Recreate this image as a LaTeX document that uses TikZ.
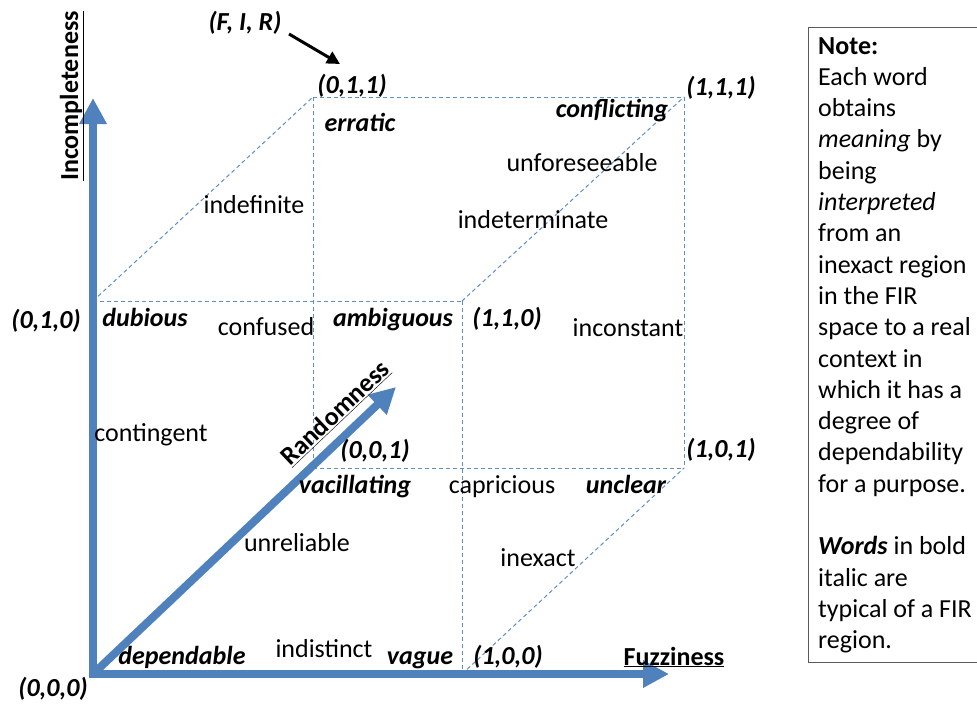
\documentclass[tikz,border=0pt]{standalone}
\usepackage{fontspec}
\setmainfont{Carlito}
\usetikzlibrary{arrows.meta}
\definecolor{axisblue}{RGB}{79,129,189}
\definecolor{dashblue}{RGB}{95,142,200}
\definecolor{boxgray}{RGB}{90,90,90}
\begin{document}
\begin{tikzpicture}[x=1pt,y=-1pt,
  every node/.style={inner sep=0pt, font=\fontsize{26}{31.3}\selectfont},
  word/.style={anchor=base},
  key/.style={anchor=base, font=\fontsize{26}{31.3}\selectfont\bfseries\itshape},
  axislbl/.style={anchor=base, font=\fontsize{26}{31.3}\selectfont\bfseries},
  axisarrow/.style={draw=axisblue, line width=8pt, -{Triangle[length=26pt,width=26pt]}},
  edge/.style={draw=dashblue, line width=1pt, dash pattern=on 4pt off 3pt},
]
\useasboundingbox (0,0) rectangle (977,704);

% cube corners
\coordinate (c000) at (93,674);
\coordinate (c100) at (462,674);
\coordinate (c010) at (93,301);
\coordinate (c110) at (462,301);
\coordinate (c001) at (313,468);
\coordinate (c101) at (684,468);
\coordinate (c011) at (313,97);
\coordinate (c111) at (684,97);

% dashed cube edges
\draw[edge] (c010) -- (c110);
\draw[edge] (c010) -- (c011);
\draw[edge] (c011) -- (c111);
\draw[edge] (c110) -- (c111);
\draw[edge] (c111) -- (c101);
\draw[edge] (c011) -- (c001);
\draw[edge] (c001) -- (c101);
\draw[edge] (c110) -- (c100);
\draw[edge] (c100) -- (c101);

% axes
\coordinate (ystart) at (93,678);
\coordinate (yend) at (93,98);
\coordinate (xstart) at (89,674);
\coordinate (xend) at (669,674);
\coordinate (zend) at (396,387);
\draw[axisarrow] (c000) -- (zend);
\draw[axisarrow] (ystart) -- (yend);
\draw[axisarrow] (xstart) -- (xend);

% axis labels
\node[axislbl, rotate=90] (lblI) at (78,96) {\underline{Incompleteness}};
\node[axislbl, rotate=43.5] (lblR) at (341,419) {\underline{Randomness}};
\node[axislbl] (lblF) at (674,665) {\underline{Fuzziness}};

% (F, I, R) pointer
\node[key] (fir) at (245,30) {(F, I, R)};
\coordinate (firs) at (289,34);
\coordinate (fire) at (340,64);
\draw[line width=3pt, -{Triangle[length=13pt,width=13pt]}] (firs) -- (fire);

% corner labels
\node[key] (l011) at (352,93) {(0,1,1)};
\node[key] (l111) at (721,95) {(1,1,1)};
\node[key] (l010) at (46,328) {(0,1,0)};
\node[key] (l110) at (507,326) {(1,1,0)};
\node[key] (l001) at (375,458) {(0,0,1)};
\node[key] (l101) at (721,457) {(1,0,1)};
\node[key] (l100) at (508,664) {(1,0,0)};
\node[key] (l000) at (53,696) {(0,0,0)};

% typical words (bold italic)
\node[key] (erratic) at (360,131) {erratic};
\node[key] (conflicting) at (612,117) {conflicting};
\node[key] (dubious) at (145,326) {dubious};
\node[key] (ambiguous) at (393,326) {ambiguous};
\node[key] (vacillating) at (355,493) {vacillating};
\node[key] (unclear) at (626,493) {unclear};
\node[key] (dependable) at (182,664) {dependable};
\node[key] (vague) at (420,664) {vague};

% other words
\node[word] (unforeseeable) at (582,171) {unforeseeable};
\node[word] (indefinite) at (254,213) {indefinite};
\node[word] (indeterminate) at (533,228) {indeterminate};
\node[word] (confused) at (266,335) {confused};
\node[word] (inconstant) at (628,336) {inconstant};
\node[word] (contingent) at (151,441) {contingent};
\node[word] (capricious) at (502,493) {capricious};
\node[word] (unreliable) at (297,551) {unreliable};
\node[word] (inexact) at (538,566) {inexact};
\node[word] (indistinct) at (324,657) {indistinct};

% note box
\draw[boxgray, line width=1pt] (978,27) -| (808,662) -- (978,662);
\node[anchor=north west, align=left] (note) at (818,37) {%
\textbf{Note:}\\
Each word\\
obtains\\
\textit{meaning} by\\
being\\
\textit{interpreted}\\
from an\\
inexact region\\
in the FIR\\
space to a real\\
context in\\
which it has a\\
degree of\\
dependability\\
for a purpose.\\[31.3pt]
\textbf{\textit{Words}} in bold\\
italic are\\
typical of a FIR\\
region.};
\end{tikzpicture}
\end{document}
